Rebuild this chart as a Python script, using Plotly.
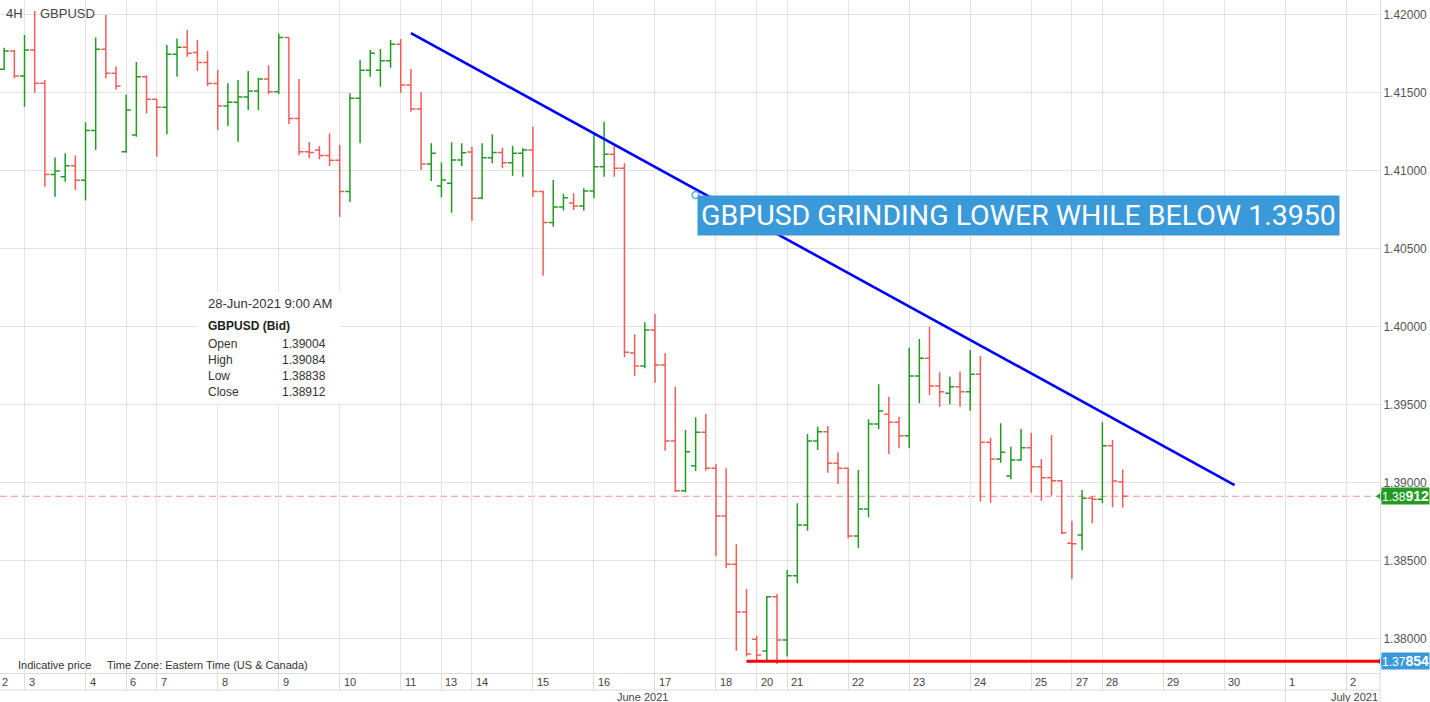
import plotly.graph_objects as go

# ---------------- data ----------------
bar_index = list(range(-2, 109))  # 4H bar slots (0 = first bar of 3 June)

open_ = [1.41649, 1.41766, 1.41606, 1.41772, 1.41559, 1.40975, 1.40960, 1.41031, 1.40937, 1.41257,
         1.41777, 1.41623, 1.41121, 1.41228, 1.41601, 1.41456, 1.41405, 1.41745, 1.41790, 1.41757,
         1.41693, 1.41557, 1.41413, 1.41437, 1.41471, 1.41510, 1.41587, 1.41505, 1.41852, 1.41334,
         1.41121, 1.41131, 1.41097, 1.41065, 1.40866, 1.41463, 1.41642, 1.41642, 1.41704, 1.41809,
         1.41548, 1.41394, 1.41042, 1.40901, 1.40918, 1.41067, 1.41118, 1.40822, 1.41082, 1.41116,
         1.41050, 1.41110, 1.41131, 1.40866, 1.40667, 1.40766, 1.40792, 1.40773, 1.40869, 1.41024,
         1.41104, 1.41014, 1.39830, 1.39747, 1.39978, 1.39753, 1.39266, 1.38948, 1.39108, 1.39322,
         1.39091, 1.38786, 1.38476, 1.38170, 1.37995, 1.37920, 1.38268, 1.37991, 1.38403, 1.38728,
         1.39266, 1.39326, 1.39123, 1.39091, 1.38657, 1.38830, 1.39375, 1.39437, 1.39386, 1.39300,
         1.39683, 1.39796, 1.39619, 1.39572, 1.39614, 1.39582, 1.39694, 1.39258, 1.39151, 1.39042,
         1.39144, 1.39223, 1.39101, 1.39031, 1.39012, 1.38610, 1.38664, 1.38899, 1.38893, 1.39236,
         1.39004]
high = [1.41787, 1.41772, 1.41869, 1.42022, 1.41580, 1.41084, 1.41110, 1.41097, 1.41309, 1.41852,
        1.41997, 1.41666, 1.41488, 1.41696, 1.41610, 1.41460, 1.41805, 1.41847, 1.41901, 1.41837,
        1.41766, 1.41644, 1.41559, 1.41580, 1.41638, 1.41595, 1.41674, 1.41879, 1.41854, 1.41587,
        1.41185, 1.41157, 1.41238, 1.41163, 1.41495, 1.41708, 1.41772, 1.41779, 1.41837, 1.41843,
        1.41651, 1.41501, 1.41174, 1.41052, 1.41181, 1.41174, 1.41153, 1.41174, 1.41232, 1.41146,
        1.41159, 1.41142, 1.41281, 1.40870, 1.40939, 1.40849, 1.40854, 1.40886, 1.41228, 1.41313,
        1.41168, 1.41046, 1.39950, 1.40027, 1.40080, 1.39828, 1.39614, 1.39337, 1.39418, 1.39439,
        1.39119, 1.39091, 1.38604, 1.38317, 1.38018, 1.38273, 1.38285, 1.38439, 1.38867, 1.39311,
        1.39358, 1.39362, 1.39194, 1.39095, 1.39080, 1.39405, 1.39630, 1.39550, 1.39422, 1.39864,
        1.39920, 1.39999, 1.39707, 1.39678, 1.39711, 1.39850, 1.39811, 1.39287, 1.39380, 1.39230,
        1.39343, 1.39319, 1.39151, 1.39305, 1.39016, 1.38753, 1.38952, 1.38914, 1.39386, 1.39273,
        1.39084]
low = [1.41644, 1.41591, 1.41409, 1.41499, 1.40896, 1.40832, 1.40928, 1.40875, 1.40807, 1.41131,
       1.41591, 1.41520, 1.41114, 1.41217, 1.41366, 1.41089, 1.41232, 1.41601, 1.41730, 1.41638,
       1.41542, 1.41260, 1.41285, 1.41185, 1.41388, 1.41388, 1.41490, 1.41490, 1.41298, 1.41099,
       1.41078, 1.41072, 1.41029, 1.40704, 1.40798, 1.41174, 1.41601, 1.41537, 1.41659, 1.41499,
       1.41377, 1.41003, 1.40933, 1.40828, 1.40730, 1.41029, 1.40678, 1.40815, 1.41046, 1.41014,
       1.40967, 1.40960, 1.40832, 1.40326, 1.40640, 1.40743, 1.40747, 1.40743, 1.40822, 1.40960,
       1.40960, 1.39803, 1.39685, 1.39732, 1.39640, 1.39204, 1.38939, 1.38937, 1.39074, 1.39076,
       1.38529, 1.38450, 1.37922, 1.37884, 1.37858, 1.37858, 1.37837, 1.37884, 1.38354, 1.38691,
       1.39208, 1.39063, 1.38991, 1.38643, 1.38578, 1.38777, 1.39341, 1.39183, 1.39219, 1.39219,
       1.39508, 1.39561, 1.39486, 1.39501, 1.39486, 1.39460, 1.38877, 1.38871, 1.39127, 1.39021,
       1.39140, 1.38935, 1.38883, 1.38916, 1.38670, 1.38382, 1.38568, 1.38739, 1.38867, 1.38841,
       1.38838]
close = [1.41766, 1.41606, 1.41772, 1.41559, 1.40975, 1.40997, 1.41031, 1.40937, 1.41257, 1.41777,
         1.41623, 1.41542, 1.41388, 1.41601, 1.41456, 1.41405, 1.41745, 1.41790, 1.41751, 1.41693,
         1.41557, 1.41413, 1.41437, 1.41471, 1.41510, 1.41587, 1.41505, 1.41852, 1.41334, 1.41121,
         1.41115, 1.41097, 1.41065, 1.40866, 1.41463, 1.41642, 1.41751, 1.41704, 1.41809, 1.41548,
         1.41394, 1.41042, 1.41110, 1.40939, 1.41067, 1.41114, 1.40822, 1.41082, 1.41116, 1.41050,
         1.41110, 1.41131, 1.40866, 1.40667, 1.40766, 1.40826, 1.40773, 1.40869, 1.41024, 1.41104,
         1.41014, 1.39835, 1.39747, 1.39978, 1.39753, 1.39266, 1.38948, 1.39198, 1.39322, 1.39091,
         1.38786, 1.38476, 1.38170, 1.37901, 1.37895, 1.38268, 1.37991, 1.38403, 1.38728, 1.39266,
         1.39326, 1.39123, 1.39091, 1.38657, 1.38830, 1.39375, 1.39458, 1.39386, 1.39300, 1.39683,
         1.39796, 1.39619, 1.39582, 1.39614, 1.39582, 1.39694, 1.39258, 1.39151, 1.39194, 1.39144,
         1.39223, 1.39101, 1.39031, 1.39012, 1.38678, 1.38607, 1.38899, 1.38893, 1.39236, 1.39010,
         1.38912]

day_pos = [0, 6, 10, 13, 19, 25, 31, 37, 41, 44, 50, 56, 62, 68, 72, 75, 81, 87, 93, 99,
           103, 106, 112, 118, 124, 130]
day_labels = ["3", "4", "6", "7", "8", "9", "10", "11", "13", "14", "15", "16", "17", "18",
              "20", "21", "22", "23", "24", "25", "27", "28", "29", "30", "1", "2"]
first_label = "2"
month_labels = ["June 2021", "July 2021"]
month_start_july = 124

price_ticks = [1.38, 1.385, 1.39, 1.395, 1.40, 1.405, 1.41, 1.415, 1.42]

trend_x = [38, 119]
trend_y = [1.41881, 1.38984]
support_x0 = 71
support_level = 1.37854
note_x = 66
note_y = 1.40843
note_text = "GBPUSD GRINDING LOWER WHILE BELOW 1.3950"

x_min, x_max = -2.41, 133.3
y_min, y_max = 1.37779, 1.42093

GREEN = "#239b23"
RED = "#f25c58"
BLUE_TAG = "#3a9ad9"
GRID = "#e3e3e3"
FONT = "Arial, Liberation Sans, sans-serif"

last_o, last_h, last_l, last_c = open_[-1], high[-1], low[-1], close[-1]

fig = go.Figure()

fig.add_trace(go.Ohlc(
    x=bar_index, open=open_, high=high, low=low, close=close,
    increasing=dict(line=dict(color=GREEN, width=1.5)),
    decreasing=dict(line=dict(color=RED, width=1.5)),
    tickwidth=0.45, hoverinfo="skip", showlegend=False,
))

fig.add_trace(go.Scatter(
    x=trend_x, y=trend_y, mode="lines",
    line=dict(color="#0000ff", width=2.6), hoverinfo="skip", showlegend=False,
))

fig.add_trace(go.Scatter(
    x=[note_x], y=[note_y], mode="markers",
    marker=dict(size=7, color="rgba(255,255,255,0.7)", line=dict(color="#5aa9e6", width=1.5)),
    hoverinfo="skip", showlegend=False,
))

# price tag notches
fig.add_trace(go.Scatter(
    x=[x_max, x_max], y=[last_c, support_level], mode="markers",
    marker=dict(symbol="triangle-left", size=8, color=[GREEN, BLUE_TAG]),
    cliponaxis=False, hoverinfo="skip", showlegend=False,
))

shapes = []
# current price dashed line
shapes.append(dict(type="line", xref="paper", x0=0, x1=1, yref="y", y0=last_c, y1=last_c,
                   line=dict(color="#f4908a", width=1, dash="7px,4px"), layer="below"))
# support line
shapes.append(dict(type="line", xref="x", x0=support_x0, x1=x_max, yref="y",
                   y0=support_level, y1=support_level, line=dict(color="#ff0000", width=3)))
# bottom axis bands
band1 = -17 / 673
band2 = -29 / 673
shapes.append(dict(type="line", xref="paper", x0=0, x1=1, yref="paper", y0=band1, y1=band1,
                   line=dict(color="#dcdcdc", width=1)))
shapes.append(dict(type="line", xref="paper", x0=1, x1=1, yref="paper", y0=band2, y1=0,
                   line=dict(color="#dcdcdc", width=1)))
shapes.append(dict(type="line", xref="x", x0=month_start_july, x1=month_start_july, yref="paper",
                   y0=band2, y1=band1, line=dict(color="#dcdcdc", width=1)))
# info box
shapes.append(dict(type="rect", xref="paper", yref="paper", x0=198 / 1380, x1=340 / 1380,
                   y0=(673 - 404) / 673, y1=(673 - 292) / 673,
                   fillcolor="rgba(255,255,255,0.92)", line=dict(width=0), layer="above"))

ann = []
# x tick labels
for p, lab in zip(day_pos, day_labels):
    ann.append(dict(x=p, xref="x", y=0, yref="paper", text=lab, showarrow=False,
                    xanchor="left", yanchor="top", xshift=2, yshift=-1,
                    font=dict(family=FONT, size=11, color="#444")))
ann.append(dict(x=0, xref="paper", y=0, yref="paper", text=first_label, showarrow=False,
                xanchor="left", yanchor="top", xshift=0, yshift=-1,
                font=dict(family=FONT, size=11, color="#444")))
ann.append(dict(x=(x_min + month_start_july) / 2, xref="x", y=0, yref="paper", text=month_labels[0],
                showarrow=False, xanchor="center", yanchor="top", yshift=-16,
                font=dict(family=FONT, size=11, color="#444")))
ann.append(dict(x=1, xref="paper", y=0, yref="paper", text=month_labels[1],
                showarrow=False, xanchor="right", yanchor="top", yshift=-16,
                font=dict(family=FONT, size=11, color="#444")))
# top-left labels
ann.append(dict(x=4 / 1380, xref="paper", y=(673 - 13) / 673, yref="paper", text="4H",
                showarrow=False, xanchor="left", yanchor="middle",
                font=dict(family=FONT, size=13, color="#444")))
ann.append(dict(x=38 / 1380, xref="paper", y=(673 - 13) / 673, yref="paper", text="GBPUSD",
                showarrow=False, xanchor="left", yanchor="middle",
                font=dict(family=FONT, size=13, color="#444")))
# bottom-left labels
ann.append(dict(x=16 / 1380, xref="paper", y=8 / 673, yref="paper", text="Indicative price",
                showarrow=False, xanchor="left", yanchor="middle",
                font=dict(family=FONT, size=11, color="#333")))
ann.append(dict(x=105 / 1380, xref="paper", y=8 / 673, yref="paper",
                text="Time Zone: Eastern Time (US & Canada)",
                showarrow=False, xanchor="left", yanchor="middle",
                font=dict(family=FONT, size=11, color="#333")))
# callout
ann.append(dict(x=note_x, xref="x", y=note_y, yref="y", text=note_text, showarrow=False,
                xanchor="left", yanchor="top", xshift=1, bgcolor="#3a9ad9", borderpad=3,
                font=dict(family="Roboto, Arial, sans-serif", size=28.5, color="white")))
# info box texts
ix0 = 206 / 1380
ivx = 328 / 1380
ann.append(dict(x=ix0, xref="paper", y=(673 - 304) / 673, yref="paper",
                text="28-Jun-2021 9:00 AM", showarrow=False, xanchor="left", yanchor="middle",
                font=dict(family=FONT, size=13, color="#333")))
ann.append(dict(x=ix0, xref="paper", y=(673 - 326) / 673, yref="paper",
                text="<b>GBPUSD (Bid)</b>", showarrow=False, xanchor="left", yanchor="middle",
                font=dict(family=FONT, size=12, color="#222")))
for i, (lab, val) in enumerate(zip(["Open", "High", "Low", "Close"],
                                   [last_o, last_h, last_l, last_c])):
    yy = (673 - (344 + 16 * i)) / 673
    ann.append(dict(x=ix0, xref="paper", y=yy, yref="paper", text=lab, showarrow=False,
                    xanchor="left", yanchor="middle",
                    font=dict(family=FONT, size=12, color="#333")))
    ann.append(dict(x=ivx, xref="paper", y=yy, yref="paper", text=f"{val:.5f}", showarrow=False,
                    xanchor="right", yanchor="middle",
                    font=dict(family=FONT, size=12, color="#333")))
# price tags
for val, col in [(last_c, GREEN), (support_level, BLUE_TAG)]:
    s = f"{val:.5f}"
    ann.append(dict(x=1, xref="paper", y=val, yref="y", xanchor="left", yanchor="middle",
                    text=f"{s[:4]}<b><span style='font-size:14px'>{s[4:]}</span></b>",
                    showarrow=False, bgcolor=col, width=47, height=16, borderpad=0, xshift=1,
                    font=dict(family=FONT, size=12, color="white")))

fig.update_layout(
    width=1430, height=702,
    margin=dict(l=0, r=50, t=0, b=29),
    paper_bgcolor="white", plot_bgcolor="white",
    showlegend=False,
    shapes=shapes, annotations=ann,
    xaxis=dict(range=[x_min, x_max], tickvals=day_pos, showticklabels=False,
               ticks="outside", ticklen=17, tickcolor="#dcdcdc", tickwidth=1,
               showgrid=True, gridcolor=GRID, gridwidth=1, zeroline=False,
               showline=True, linecolor="#dcdcdc", linewidth=1,
               rangeslider=dict(visible=False), fixedrange=True),
    yaxis=dict(range=[y_min, y_max], side="right", tickvals=price_ticks,
               ticktext=[f"{v:.5f}" for v in price_ticks],
               showgrid=True, gridcolor=GRID, gridwidth=1, zeroline=False,
               showline=True, linecolor="#dcdcdc", linewidth=1, ticks="",
               tickfont=dict(family=FONT, size=12, color="#555"), fixedrange=True),
)

fig.write_html("out.html", config={"displayModeBar": False},
               post_script="document.body.style.margin='0';document.body.style.overflow='hidden';")
